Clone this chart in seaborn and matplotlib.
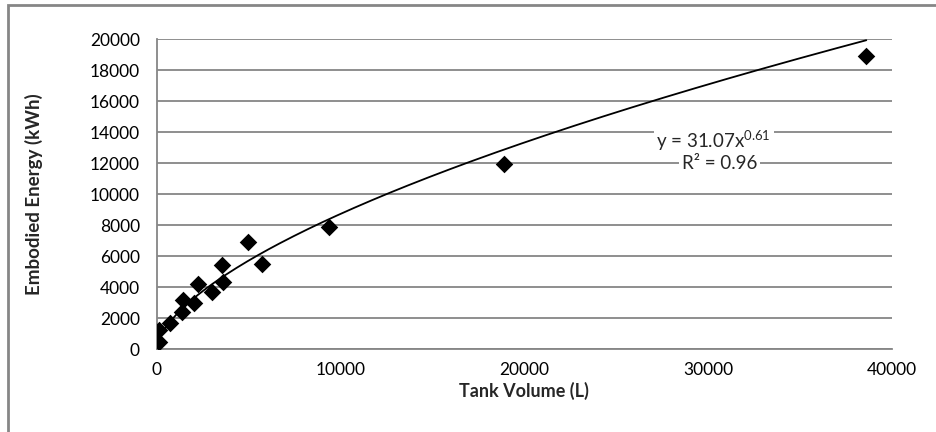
import numpy as np
import pandas as pd
import matplotlib
matplotlib.use("Agg")
import matplotlib.pyplot as plt
import seaborn as sns
from matplotlib.patches import Rectangle

# tank volume (L) and embodied energy (kWh)
tank_volume = [100, 150, 700, 1360, 1450, 2050, 2230, 3000, 3540, 3620,
               4980, 5710, 9400, 18900, 38600]
embodied_energy = [450, 1200, 1700, 2400, 3150, 3000, 4200, 3700, 5400, 4350,
                   6900, 5500, 7870, 11950, 18900]

# power trendline (label on the chart shows these rounded to 2 dp)
coef_a = 31.07
coef_b = 0.612
r_squared = 0.96

x_ticks = [0, 10000, 20000, 30000, 40000]
y_ticks = list(range(0, 20001, 2000))

df = pd.DataFrame({'volume': tank_volume, 'energy': embodied_energy})
fit_x = np.linspace(min(tank_volume), max(tank_volume), 200)
fit = pd.DataFrame({'volume': fit_x, 'energy': coef_a * fit_x ** coef_b})

sns.set_style('white')
plt.rcParams['font.family'] = ['Lato', 'DejaVu Sans']
plt.rcParams['mathtext.default'] = 'regular'

grey = '#868686'
fig = plt.figure(figsize=(9.37, 4.32), dpi=100)
ax = fig.add_axes([0.1672, 0.1921, 0.7848, 0.7176])

sns.lineplot(data=fit, x='volume', y='energy', ax=ax, color='black', linewidth=1.3, zorder=3)
sns.scatterplot(data=df, x='volume', y='energy', ax=ax, marker='D', s=80,
                color='black', edgecolor='black', linewidth=0, zorder=4)

ax.set_xlim(0, 40000)
ax.set_ylim(0, 20000)
ax.set_xticks(x_ticks)
ax.set_yticks(y_ticks)
ax.yaxis.grid(True, color=grey, linewidth=1.3)
ax.set_axisbelow(True)
for side in ['top', 'right']:
    ax.spines[side].set_visible(False)
for side in ['left', 'bottom']:
    ax.spines[side].set_color(grey)
    ax.spines[side].set_linewidth(1.3)
ax.tick_params(axis='both', direction='out', length=4, width=1.2, color=grey,
               labelsize=12.5, labelcolor='black')
ax.tick_params(axis='x', pad=5)
ax.tick_params(axis='y', pad=8)

ax.set_xlabel('Tank Volume (L)', fontsize=13, fontweight='bold', labelpad=3)
ax.set_ylabel('Embodied Energy (kWh)', fontsize=13.5, fontweight='bold', labelpad=34)

box = dict(facecolor='white', edgecolor='none', pad=2)
ax.text(30300, 13450, f'y = {coef_a:.2f}x$^{{{coef_b:.2f}}}$', ha='center', va='center',
        fontsize=13.5, bbox=box, zorder=5)
ax.text(30600, 11950, f'R² = {r_squared:.2f}', ha='center', va='center',
        fontsize=13.5, bbox=box, zorder=5)

# outer chart border, partly cut off on the right and bottom
fig.patches.append(Rectangle((8 / 937, -0.1), 1.2, 1.1 - 5 / 432, transform=fig.transFigure,
                             fill=False, edgecolor=grey, linewidth=2))

fig.savefig('out.png', dpi=100)
